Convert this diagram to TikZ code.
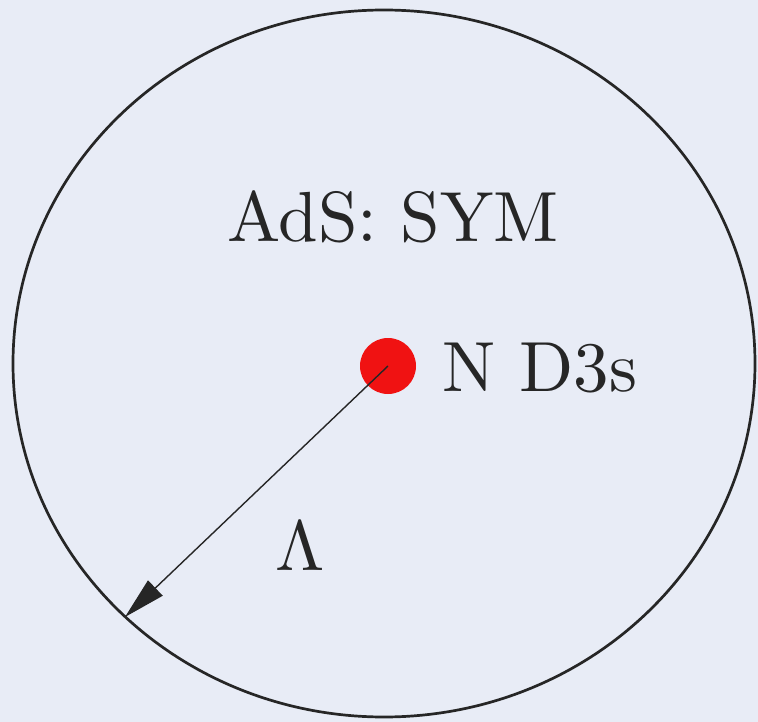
\documentclass[tikz,border=0pt]{standalone}
\usetikzlibrary{arrows.meta}
\definecolor{bgcol}{RGB}{232,236,246}
\definecolor{dotred}{RGB}{240,18,18}
\definecolor{ink}{RGB}{38,38,38}
\begin{document}
\begin{tikzpicture}[x=1pt,y=-1pt,
  lbl/.style={inner sep=0pt, text=ink, font=\fontsize{10}{12}\selectfont, scale=7.1, transform shape},
  bound/.style={draw=ink, line width=2.7pt},
  dotstyle/.style={circle, fill=dotred, minimum size=56pt, inner sep=0pt},
  radius arrow/.style={draw=ink, line width=1.4pt, -{Triangle[length=42pt,width=21pt]}}]
\useasboundingbox (0,0) rectangle (758,722);
\fill[bgcol] (0,0) rectangle (758,722);
\draw[bound] (384,363.5) ellipse [x radius=371, y radius=353.5];
\node[lbl, anchor=base west] (ads) at (226,242) {AdS: SYM};
\node[dotstyle] (dot) at (388,366) {};
\node[lbl, anchor=base west] (nd3) at (441,391) {N D3s};
\coordinate (edge) at (125,617);
\draw[radius arrow] (dot.center) -- (edge);
\node[lbl, anchor=base] (lam) at (300,570) {$\Lambda$};
\end{tikzpicture}
\end{document}
